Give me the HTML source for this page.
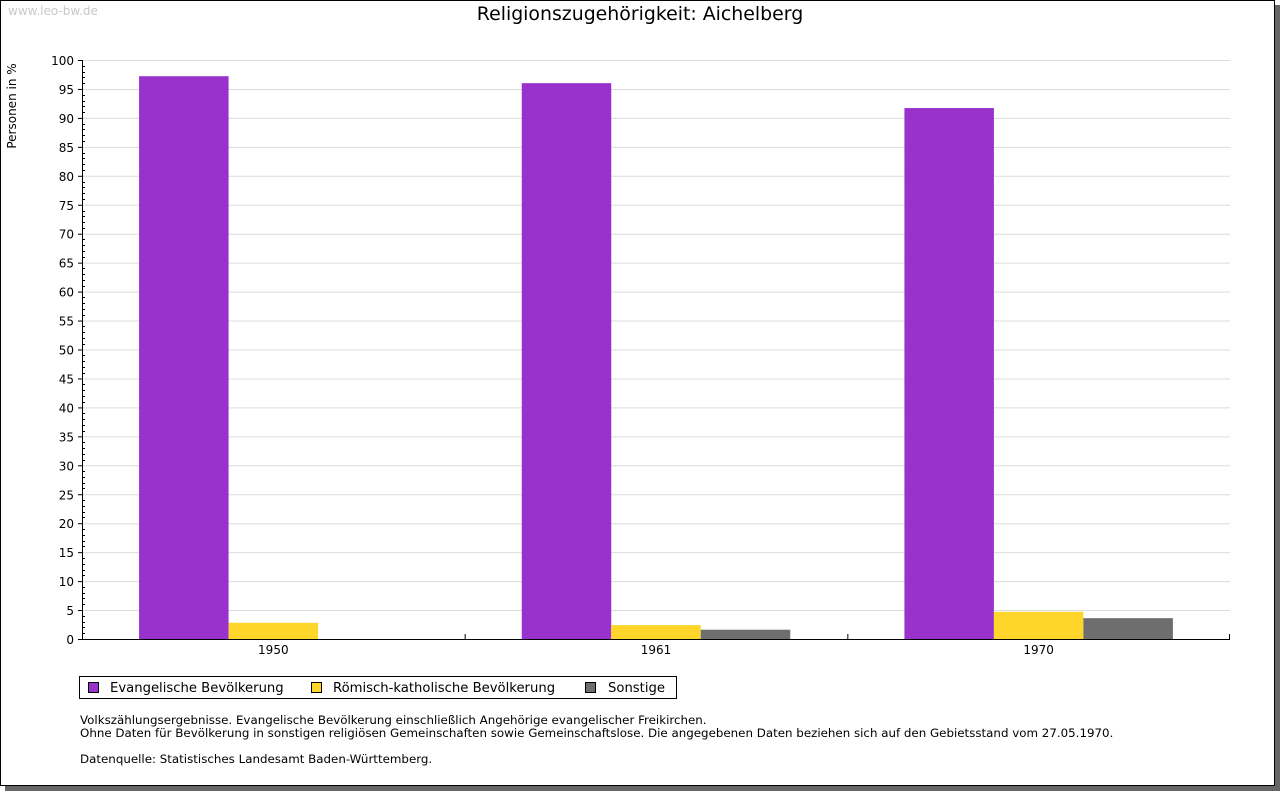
<!DOCTYPE html>
<html><head><meta charset="utf-8"><style>
html,body{margin:0;padding:0;background:#fff;}
body{width:1280px;height:791px;position:relative;overflow:hidden;font-family:"DejaVu Sans","Liberation Sans",sans-serif;}
</style></head><body>
<svg id="chart" width="1280" height="791" xmlns="http://www.w3.org/2000/svg" font-family="DejaVu Sans, Liberation Sans, sans-serif">
<rect x="5" y="5" width="1275" height="786" fill="#666"/>
<rect x="0.5" y="0.5" width="1274" height="785" fill="#fff" stroke="#000"/>
<text x="8" y="15" font-size="12" fill="#c8c8c8">www.leo-bw.de</text>
<text x="640" y="20" font-size="18.9" text-anchor="middle" fill="#000">Religionszugehörigkeit: Aichelberg</text>
<text transform="translate(16,106) rotate(-90)" font-size="12" text-anchor="middle">Personen in %</text>
<g id="grid"></g><g id="bars"></g><g id="axes"></g>
<g>
<rect x="79.5" y="676.5" width="597" height="22" fill="#fff" stroke="#000"/>
<rect x="88.5" y="682.5" width="10" height="10" fill="#9932cc" stroke="#000"/>
<text x="110" y="692" font-size="13.2">Evangelische Bevölkerung</text>
<rect x="311.5" y="682.5" width="10" height="10" fill="#fdd52b" stroke="#000"/>
<text x="333" y="692" font-size="13.2">Römisch-katholische Bevölkerung</text>
<rect x="585.5" y="682.5" width="10" height="10" fill="#6e6e6e" stroke="#000"/>
<text x="608" y="692" font-size="13.2">Sonstige</text>
</g>
<g font-size="11.85">
<text x="80" y="724">Volkszählungsergebnisse. Evangelische Bevölkerung einschließlich Angehörige evangelischer Freikirchen.</text>
<text x="80" y="737">Ohne Daten für Bevölkerung in sonstigen religiösen Gemeinschaften sowie Gemeinschaftslose. Die angegebenen Daten beziehen sich auf den Gebietsstand vom 27.05.1970.</text>
<text x="80" y="763">Datenquelle: Statistisches Landesamt Baden-Württemberg.</text>
</g>
</svg>
<script>
const categories = ["1950","1961","1970"];
const evangelisch = [97.2, 96.0, 91.7];
const katholisch = [2.8, 2.4, 4.7];
const sonstige = [0, 1.6, 3.6];
const yTicks = [0,5,10,15,20,25,30,35,40,45,50,55,60,65,70,75,80,85,90,95,100];

const NS="http://www.w3.org/2000/svg";
const X0=82,X1=1230,Y0=639,Y1=60;
const y=v=>Y0-(v/100)*(Y0-Y1);
const gw=(X1-X0)/categories.length;
const bw=89.5;
const xg=i=>X0+gw*i+gw/2;
function mk(t,a,p){const e=document.createElementNS(NS,t);for(const k in a)e.setAttribute(k,a[k]);p.appendChild(e);return e;}
const grid=document.getElementById('grid'),bars=document.getElementById('bars'),axes=document.getElementById('axes');
yTicks.forEach(v=>{
  if(v>0){const l=mk('line',{x1:X0,x2:X1,y1:y(v)+0.5,y2:y(v)+0.5,stroke:'#dcdcdc'},grid);
  
  }
  const t=mk('text',{x:X0-8,y:y(v)+5,'font-size':12,'text-anchor':'end'},axes);t.textContent=v;
  
  
  mk('line',{x1:X0-4,x2:X0,y1:y(v)+0.5,y2:y(v)+0.5,stroke:'#000'},axes);
});
for(let v=1;v<100;v++){if(v%5)mk('line',{x1:X0,x2:X0+3,y1:Math.round(y(v))+0.5,y2:Math.round(y(v))+0.5,stroke:'#000'},axes);}
const series=[[evangelisch,'#9932cc','evangelisch'],[katholisch,'#fdd52b','katholisch'],[sonstige,'#6e6e6e','sonstige']];
categories.forEach((c,i)=>{
  series.forEach((s,j)=>{
    const v=s[0][i];if(v<=0)return;
    const x=xg(i)-1.5*bw+j*bw;
    const r=mk('rect',{x:x,y:y(v),width:bw,height:Y0-y(v),fill:s[1]},bars);
    
    
  });
  const t=mk('text',{x:xg(i),y:Y0+15,'font-size':12,'text-anchor':'middle'},axes);t.textContent=c;
  
  
  if(i>0)mk('line',{x1:X0+gw*i+0.5,x2:X0+gw*i+0.5,y1:Y0,y2:Y0-5,stroke:'#000'},axes);
});
mk('line',{x1:X1-0.5,x2:X1-0.5,y1:Y0,y2:Y0-5,stroke:'#000'},axes);
const ya=mk('line',{x1:X0+0.5,x2:X0+0.5,y1:Y1,y2:Y0+1,stroke:'#000'},axes);


const xa=mk('line',{x1:X0,x2:X1,y1:Y0+0.5,y2:Y0+0.5,stroke:'#000'},axes);


</script>
</body></html>
